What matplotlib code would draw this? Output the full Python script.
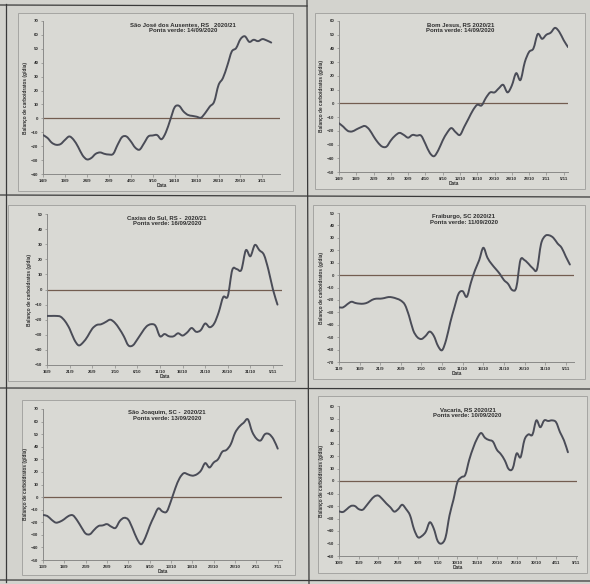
import matplotlib
matplotlib.use("Agg")
import matplotlib.pyplot as plt
from matplotlib.lines import Line2D
from matplotlib.patches import Rectangle, PathPatch
from matplotlib.path import Path

# ---- data: daily carbohydrate balance (g/dia), day 0 = ponta verde ----
titles = [
    "São José dos Ausentes, RS   2020/21\nPonta verde: 14/09/2020",
    "Bom Jesus, RS 2020/21\nPonta verde: 14/09/2020",
    "Caxias do Sul, RS -  2020/21\nPonta verde: 16/09/2020",
    "Fraiburgo, SC 2020/21\nPonta verde: 11/09/2020",
    "São Joaquim, SC -  2020/21\nPonta verde: 13/09/2020",
    "Vacaria, RS 2020/21\nPonta verde: 10/09/2020",
]

sao_jose = [-12, -14, -17.5, -19, -18.5, -15.5, -13, -15.5, -20.5, -26.5,
            -29.5, -28.5, -25.5, -24.5, -25.5, -26, -25.5, -19, -13.5, -13,
            -16.5, -21, -22.5, -18, -13, -12.3, -12, -15, -10, -1,
            8, 9, 5, 2.5, 1.8, 1.2, 0.5, 4, 8.5, 12,
            24, 29, 38, 48, 50.5, 57, 59, 55, 56.5, 55.5,
            57, 56, 54.5]
bom_jesus = [-14.5, -17, -20, -20.5, -19, -17.5, -16.5, -19, -24, -28.5,
             -31.5, -31.5, -27, -23.5, -21.5, -23, -25, -23, -23.5, -23.5,
             -29.5, -36, -38.5, -34, -27, -21.5, -18, -21, -23, -17,
             -11, -5, -1, -1.5, 4, 8, 8, 11, 13.5, 8,
             13, 22, 17, 30, 37.5, 40, 50.5, 47, 50, 51.5,
             55, 52, 46, 41]
caxias = [-17.5, -17.5, -17.5, -18, -21, -26, -33, -37, -35, -31,
          -26, -23.5, -23, -21.5, -20, -22, -26, -31, -37, -37,
          -33, -28.5, -24.5, -23, -24, -31, -29.5, -31, -31, -29,
          -30.5, -28.5, -25.5, -28, -27, -22.5, -25, -22.5, -15, -5,
          -4.5, 13, 13.5, 13, 26, 22, 29.5, 26, 23, 13,
          0, -10]
fraiburgo = [-26, -26, -23.5, -21.5, -22.5, -23, -23, -22, -20, -19,
             -19, -18.5, -17.7, -18, -19, -20.5, -24, -33, -44.5, -50,
             -51.5, -49, -45.5, -49, -57, -60.5, -52, -38, -26, -15,
             -13, -17.5, -6, 4, 12, 22, 14, 9, 5, 1,
             -4, -7, -12, -10, 12, 12, 9, 5.5, 4.5, 25,
             31.5, 32, 30, 25.5, 22, 15, 8.5]
sao_joaquim = [-14.3, -15, -18, -20.3, -19.5, -17.5, -15, -14.5, -18.5, -24,
               -29, -29.5, -26, -23, -22.5, -21.5, -23.5, -24.5, -19, -16.5,
               -18, -25, -33, -37.5, -32, -23, -15.5, -9, -11.5, -11.5,
               -3, 7, 15, 19, 18, 17, 18, 21, 27, 23.5,
               27.5, 30, 36, 37.5, 42, 51, 56, 59, 61.8, 52,
               46.5, 45, 50, 50, 46, 38.5]
vacaria = [-24.3, -24.8, -22.5, -20, -20, -22.5, -23, -19.5, -15.5, -12.3,
           -11.7, -14.5, -18, -21, -24.5, -22.5, -19, -22.5, -27.5, -38.5,
           -45, -44, -40.5, -33, -38, -48, -50, -45, -27.5, -15,
           -1, 3, 5, 17, 26.5, 34, 38.4, 34.5, 32.8, 31.5,
           25, 21.5, 16.5, 9.5, 10, 22, 19, 33, 37.3, 37,
           48.5, 43, 48.5, 48, 48.5, 47, 39, 32.5, 23]
series = [sao_jose, bom_jesus, caxias, fraiburgo, sao_joaquim, vacaria]

tick_labels = [
    ["14/9", "19/9", "24/9", "29/9", "4/10", "9/10", "14/10", "19/10", "24/10", "29/10", "3/11"],
    ["14/9", "18/9", "22/9", "26/9", "30/9", "4/10", "8/10", "12/10", "16/10", "20/10", "24/10",
     "28/10", "1/11", "5/11"],
    ["16/9", "21/9", "26/9", "1/10", "6/10", "11/10", "16/10", "21/10", "26/10", "31/10", "5/11"],
    ["11/9", "16/9", "21/9", "26/9", "1/10", "6/10", "11/10", "16/10", "21/10", "26/10", "31/10", "5/11"],
    ["13/9", "18/9", "23/9", "28/9", "3/10", "8/10", "13/10", "18/10", "23/10", "28/10", "2/11", "7/11"],
    ["10/9", "15/9", "20/9", "25/9", "30/9", "5/10", "10/10", "15/10", "20/10", "25/10", "30/10",
     "4/11", "9/11"],
]
tick_step_days = [5, 4, 5, 5, 5, 5]
y_ranges = [(-40, 70), (-50, 60), (-50, 50), (-70, 50), (-50, 70), (-60, 60)]
x_ends = [54, 53, 52, 57, 56, 60.3]

# ---- layout in pixels (figure is 590 x 584) ----
W, H = 590, 584
plot_boxes = [  # left, top, right, bottom of the data area
    (43, 21, 280, 174), (339, 21, 568, 172),
    (47, 214, 282, 365), (339, 213, 574, 362),
    (43, 409, 282, 560), (339, 406, 577, 556),
]
frames = [
    (18, 13, 293, 191), (315, 13, 585, 189),
    (8, 205, 295, 381), (313, 205, 585, 379),
    (22, 400, 295, 575), (318, 396, 587, 573),
]
title_x = [0.59, 0.53, 0.51, 0.53, 0.52, 0.54]

PAGE = "#d3d3ce"
CHART_BG = "#d9d9d4"
LINE = "#4a4c57"
ZERO = "#735d50"
AXIS = "#8a8a88"
TXT = "#2e2e2e"
FONT = "Liberation Sans"


def fx(px):
    return px / W


def fy(py):
    return 1 - py / H


def smooth_path(xs, ys):
    """Smoothed line through every point (cubic Bezier, Catmull-Rom tangents)."""
    n = len(xs)
    verts = [(xs[0], ys[0])]
    codes = [Path.MOVETO]
    for k in range(n - 1):
        xm, ym = (xs[k - 1], ys[k - 1]) if k > 0 else (xs[k], ys[k])
        xp, yp = (xs[k + 2], ys[k + 2]) if k + 2 < n else (xs[k + 1], ys[k + 1])
        c1 = (xs[k] + (xs[k + 1] - xm) / 6, ys[k] + (ys[k + 1] - ym) / 6)
        c2 = (xs[k + 1] - (xp - xs[k]) / 6, ys[k + 1] - (yp - ys[k]) / 6)
        verts += [c1, c2, (xs[k + 1], ys[k + 1])]
        codes += [Path.CURVE4] * 3
    return Path(verts, codes)


fig = plt.figure(figsize=(W / 100, H / 100), dpi=100, facecolor=PAGE)

# table rules of the printed page
for x0, y0, x1, y1 in [(6, 4, 6, 582), (307, 0, 309, 584), (0, 5, 307, 6),
                       (0, 195, 590, 197), (0, 388, 590, 389), (0, 580, 590, 581)]:
    fig.add_artist(Line2D([fx(x0), fx(x1)], [fy(y0), fy(y1)], color="#3a3a3a",
                          lw=0.9, transform=fig.transFigure, zorder=-5))

for i in range(6):
    l, t, r, b = frames[i]
    fig.add_artist(Rectangle((fx(l), fy(b)), fx(r) - fx(l), fy(t) - fy(b),
                             transform=fig.transFigure, facecolor=CHART_BG,
                             edgecolor="#a5a5a2", lw=0.7, zorder=-4))

    pl, pt, pr, pb = plot_boxes[i]
    ax = fig.add_axes([fx(pl), fy(pb), fx(pr) - fx(pl), fy(pt) - fy(pb)])
    ax.set_facecolor("none")
    vals = series[i]
    days = list(range(len(vals)))
    ax.add_patch(PathPatch(smooth_path(days, vals), fill=False, edgecolor=LINE,
                           lw=1.4, capstyle="round", joinstyle="round", zorder=3))
    ax.axhline(0, color=ZERO, lw=0.9, zorder=2)

    y0, y1 = y_ranges[i]
    ax.set_ylim(y0, y1)
    ax.set_xlim(0, x_ends[i])
    ax.set_yticks(range(y0, y1 + 1, 10))
    step = tick_step_days[i]
    labels = tick_labels[i]
    ax.set_xticks([k * step for k in range(len(labels))])
    ax.set_xticklabels(labels)

    for side in ("top", "right"):
        ax.spines[side].set_visible(False)
    for side in ("left", "bottom"):
        ax.spines[side].set_color(AXIS)
        ax.spines[side].set_linewidth(0.7)
    ax.tick_params(axis="both", length=1.8, width=0.5, color=AXIS, pad=1.5,
                   labelsize=3.2, labelcolor=TXT)
    for lab in ax.get_xticklabels() + ax.get_yticklabels():
        lab.set_fontfamily(FONT)
        lab.set_fontweight("bold")

    ax.set_xlabel("Data", fontsize=3.4, fontweight="bold", family=FONT,
                  color=TXT, labelpad=0.5)
    ax.set_ylabel("Balanço de carboidratos (g/dia)", fontsize=3.4,
                  fontweight="bold", family=FONT, color=TXT, labelpad=2)
    ax.text(title_x[i], 0.995, titles[i], transform=ax.transAxes, ha="center",
            va="top", fontsize=4.3, fontweight="bold", family=FONT,
            color=TXT, linespacing=1.35)

fig.savefig("out.png", dpi=100, facecolor=PAGE)
